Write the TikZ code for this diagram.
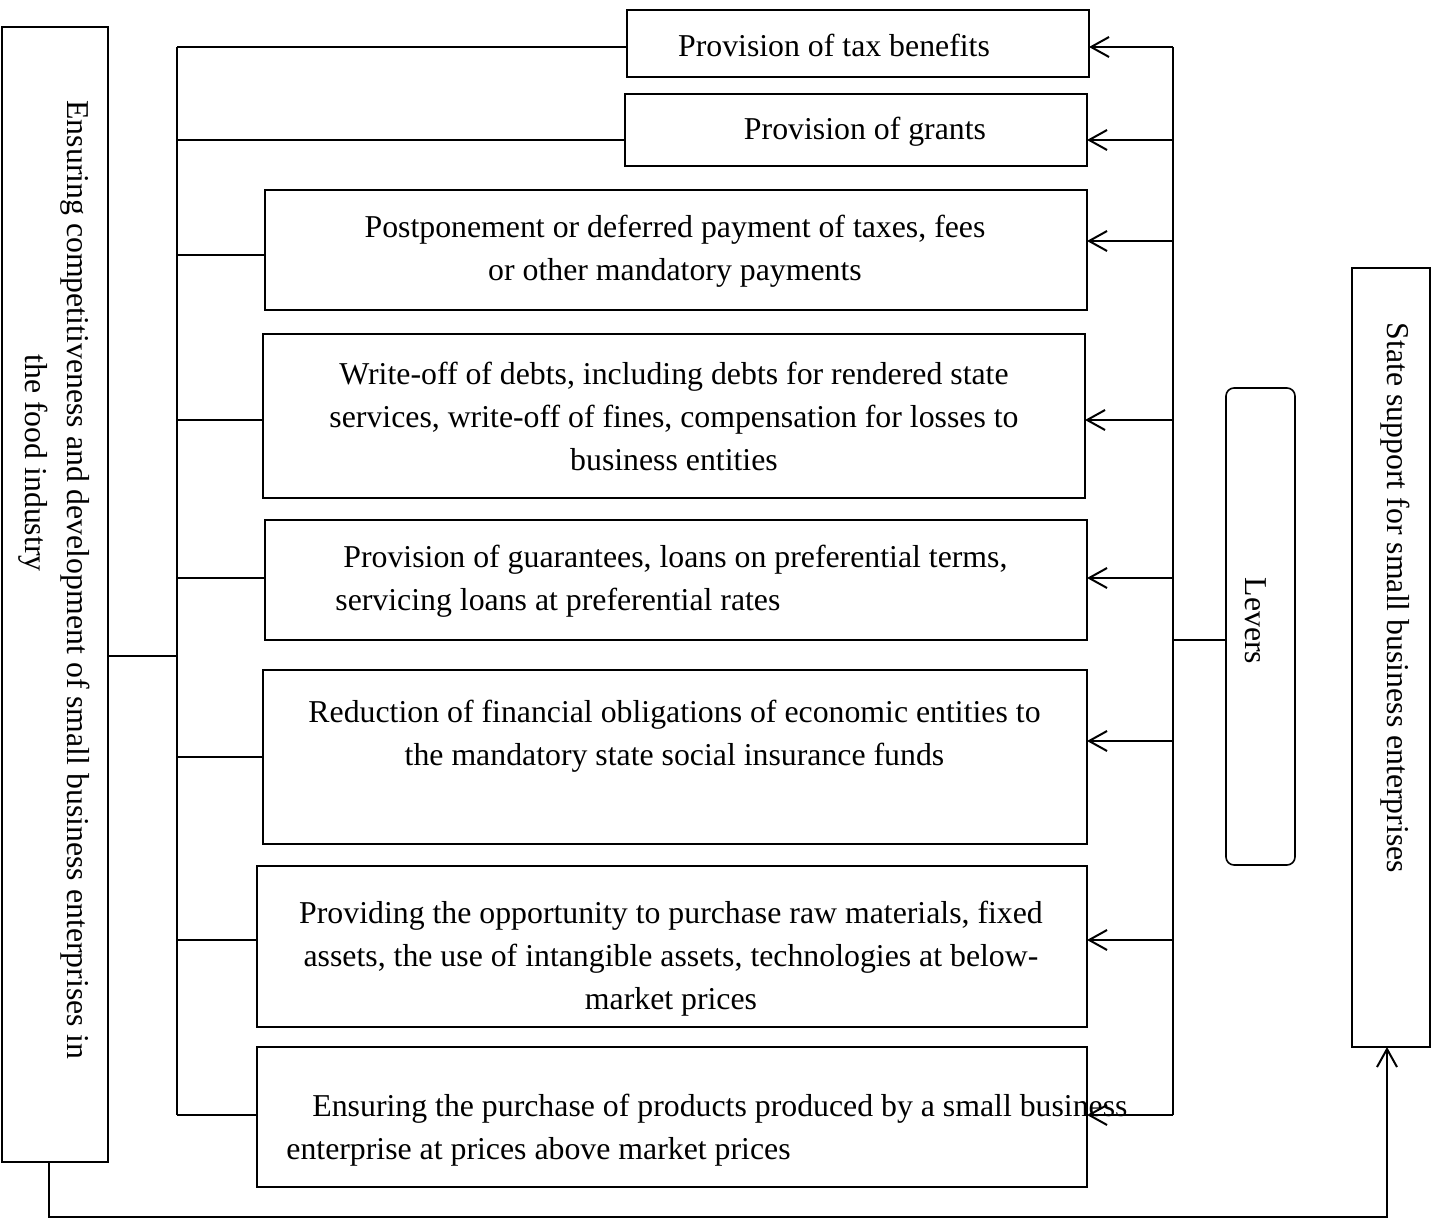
\documentclass[tikz,border=0pt]{standalone}
\usepackage{fontspec}
\setmainfont{Liberation Serif}
\usetikzlibrary{arrows.meta,fit}
\begin{document}
\begin{tikzpicture}[x=0.5pt,y=-0.5pt,
  box/.style={draw, line width=0.8pt, inner sep=0pt, outer sep=0pt},
  txt/.style={font=\fontsize{15.9}{21.5}\selectfont, inner sep=0pt, align=center},
  conn/.style={line width=1pt},
  arr/.style={line width=1pt, -{Straight Barb[length=9pt,width=10pt]}}]
\useasboundingbox (0,0) rectangle (1436,1219);

% boxes
\node[box, fit={(627,10) (1089,77)}] (b1) {};
\node[box, fit={(625,94) (1087,166)}] (b2) {};
\node[box, fit={(265,190) (1087,310)}] (b3) {};
\node[box, fit={(263,334) (1085,498)}] (b4) {};
\node[box, fit={(265,520) (1087,640)}] (b5) {};
\node[box, fit={(263,670) (1087,844)}] (b6) {};
\node[box, fit={(257,866) (1087,1027)}] (b7) {};
\node[box, fit={(257,1047) (1087,1187)}] (b8) {};
\node[box, fit={(2,27) (108,1162)}] (left) {};
\node[box, fit={(1352,268) (1430,1047)}] (state) {};
\node[box, rounded corners=4pt, fit={(1226,388) (1295,865)}] (levers) {};

% texts
\node[txt] (t1) at (834,45) {Provision of tax benefits};
\node[txt] (t2) at (865,132) {Provision of grants};
\node[txt] (t3) at (675,251.5) {Postponement or deferred payment of taxes, fees\\or other mandatory payments};
\node[txt] (t4) at (674,416) {Write-off of debts, including debts for rendered state\\services, write-off of fines, compensation for losses to\\business entities};
\node[txt, align=left, anchor=west] (t5) at (335,581.5) {\hspace*{4pt}Provision of guarantees, loans on preferential terms,\\servicing loans at preferential rates};
\node[txt] (t6) at (674.5,736.5) {Reduction of financial obligations of economic entities to\\the mandatory state social insurance funds};
\node[txt] (t7) at (671,959) {Providing the opportunity to purchase raw materials, fixed\\assets, the use of intangible assets, technologies at below-\\market prices};
\node[txt, align=left, anchor=west] (t8) at (286,1130.5) {\hspace*{13pt}Ensuring the purchase of products produced by a small business\\enterprise at prices above market prices};
\node[txt, rotate=-90] (tl1) at (75,580) {Ensuring competitiveness and development of small business enterprises in};
\node[txt, rotate=-90] (tl2) at (33,463) {the food industry};
\node[txt, rotate=-90] (tst) at (1395,598) {State support for small business enterprises};
\node[txt, rotate=-90] (tlev) at (1256,621) {Levers};

% bus coordinates
\coordinate (ltop) at (177,47);
\coordinate (lbot) at (177,1115);
\coordinate (rtop) at (1173,47);
\coordinate (rbot) at (1173,1115);
\coordinate (lmid) at (177,656);
\coordinate (rlev) at (1173,640);

\draw[conn] (ltop) -- (lbot);
\draw[conn] (rtop) -- (rbot);
\draw[conn] (left.east |- lmid) -- (lmid);
\draw[conn] (rlev) -- (rlev -| levers.west);

% left branches
\foreach \b/\yy in {b1/47,b2/140,b3/255,b4/420,b5/578,b6/757,b7/940,b8/1115}{
  \coordinate (lc) at (177,\yy);
  \draw[conn] (lc) -- (lc -| \b.west);
}
% right arrows
\foreach \b/\yy in {b1/47,b2/140,b3/241,b4/420,b5/578,b6/741,b7/940,b8/1115}{
  \coordinate (rc) at (1173,\yy);
  \draw[arr] (rc) -- (rc -| \b.east);
}

% bottom loop
\coordinate (bl) at (49,1217);
\coordinate (br) at (1387,1217);
\draw[arr] (left.south -| bl) -- (bl) -- (br) -- (state.south -| br);
\end{tikzpicture}
\end{document}
